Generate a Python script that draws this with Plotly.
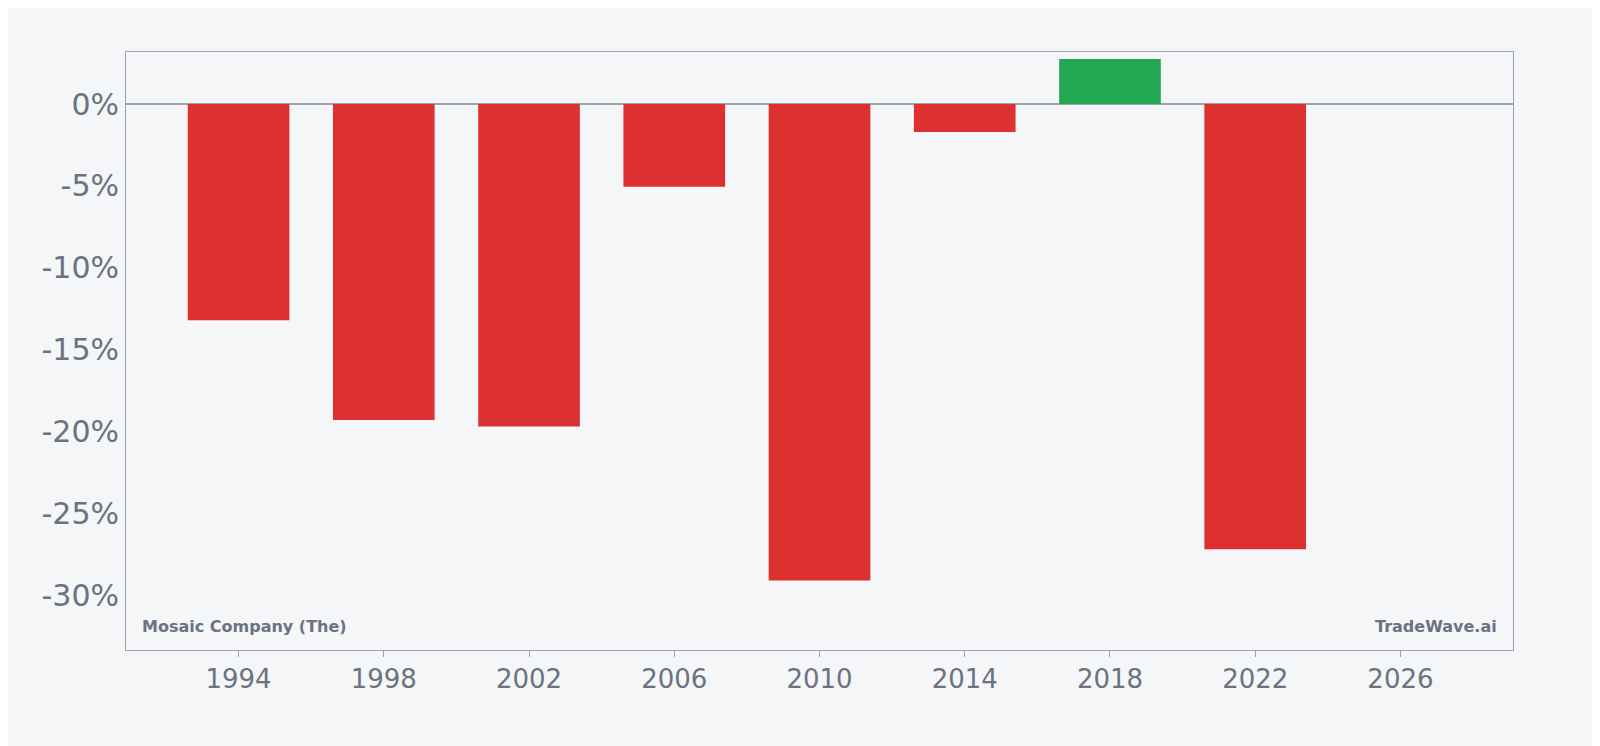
import plotly.graph_objects as go

years = [1994, 1998, 2002, 2006, 2010, 2014, 2018, 2022]
returns = [-13.2, -19.3, -19.7, -5.05, -29.1, -1.7, 2.75, -27.2]
tick_years = [1994, 1998, 2002, 2006, 2010, 2014, 2018, 2022, 2026]
y_ticks = [0, -5, -10, -15, -20, -25, -30]
y_labels = ["0%", "-5%", "-10%", "-15%", "-20%", "-25%", "-30%"]

colors = ["#22a853" if v >= 0 else "#dc3031" for v in returns]
fig = go.Figure(go.Bar(x=years, y=returns, width=2.8, marker_color=colors,
                       marker_line_width=0))
fig.update_layout(
    width=1600, height=746, paper_bgcolor="#f5f6f8", plot_bgcolor="#f5f6f8",
    margin=dict(l=118, r=95, t=44, b=104), showlegend=False,
    font=dict(family="DejaVu Sans", color="#6b7280"),
)
fig.update_xaxes(range=[1990.9, 2029.1], tickvals=tick_years, tickfont_size=26,
                 showgrid=False, showline=True, linecolor="#9ca3af", mirror=True,
                 ticks="outside", ticklen=6, tickcolor="#9ca3af", zeroline=False)
fig.update_yaxes(range=[-33.35, 3.18], tickvals=y_ticks, ticktext=y_labels,
                 tickfont_size=30, showgrid=False, showline=True, linecolor="#9ca3af",
                 mirror=True, zeroline=True, zerolinecolor="#9ca3af", zerolinewidth=2)
fig.add_annotation(x=0.01, y=0.02, xref="paper", yref="paper", xanchor="left", yanchor="bottom",
                   text="<b>Mosaic Company (The)</b>", showarrow=False, font=dict(size=16, color="#6b7280"))
fig.add_annotation(x=0.99, y=0.02, xref="paper", yref="paper", xanchor="right", yanchor="bottom",
                   text="<b>TradeWave.ai</b>", showarrow=False, font=dict(size=16, color="#6b7280"))
fig.write_html("out.html")
